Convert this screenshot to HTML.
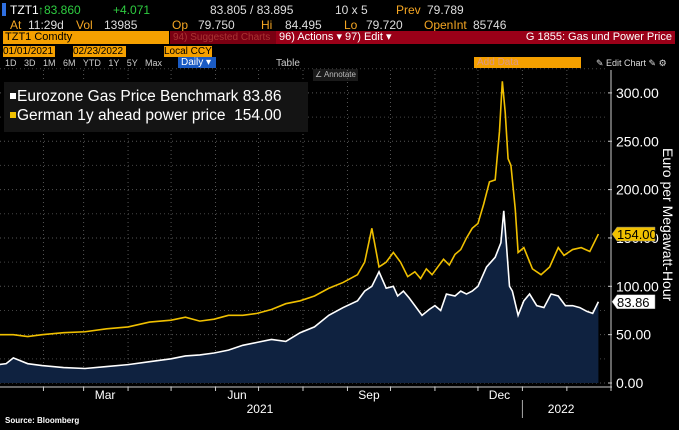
<!DOCTYPE html>
<html><head><meta charset="utf-8"><style>
body{margin:0;width:679px;height:430px;background:#000;overflow:hidden;font-family:"Liberation Sans",sans-serif;position:relative}
.a{position:absolute;white-space:nowrap}
</style></head><body>
<div class="a" style="left:0;top:3px;font-size:12px;color:#ddd;width:679px;height:16px">
<span style="position:absolute;left:2px;top:0;width:4px;height:13px;background:#2f6fe0"></span>
<span class="a" style="left:10px;color:#fff">TZT1</span><span class="a" style="left:38px;color:#2ecc40">↑83.860</span>
<span class="a" style="left:113px;color:#2ecc40">+4.071</span><span class="a" style="left:210px">83.805 / 83.895</span>
<span class="a" style="left:335px">10 x 5</span><span class="a" style="left:396px;color:#f5a623">Prev</span><span class="a" style="left:427px">79.789</span></div>
<div class="a" style="left:0;top:18px;font-size:12px;color:#ddd;width:679px;height:16px">
<span class="a" style="left:10px;color:#f5a623">At</span><span class="a" style="left:28px">11:29d</span><span class="a" style="left:76px;color:#f5a623">Vol</span><span class="a" style="left:104px">13985</span>
<span class="a" style="left:172px;color:#f5a623">Op</span><span class="a" style="left:198px">79.750</span><span class="a" style="left:261px;color:#f5a623">Hi</span><span class="a" style="left:285px">84.495</span>
<span class="a" style="left:344px;color:#f5a623">Lo</span><span class="a" style="left:366px">79.720</span><span class="a" style="left:424px;color:#f5a623">OpenInt</span><span class="a" style="left:473px">85746</span></div>
<div class="a" style="left:3px;top:31px;width:164px;height:13px;background:#f5a000;color:#000;font-size:11px;line-height:13px;padding-left:2px">TZT1 Comdty</div>
<div class="a" style="left:170px;top:31px;width:104px;height:13px;background:#7a0012;color:#a33;font-size:10px;line-height:13px;padding-left:3px;overflow:hidden">94) Suggested Charts</div>
<div class="a" style="left:276px;top:31px;width:64px;height:13px;background:#9a0018;color:#fff;font-size:11px;line-height:13px;padding-left:3px">96) Actions ▾</div>
<div class="a" style="left:342px;top:31px;width:47px;height:13px;background:#9a0018;color:#fff;font-size:11px;line-height:13px;padding-left:3px">97) Edit ▾</div>
<div class="a" style="left:392px;top:31px;width:280px;height:13px;background:#9a0018;color:#fff;font-size:11px;line-height:13px;text-align:right;padding-right:3px">G 1855: Gas und Power Price</div>
<div class="a" style="left:3px;top:46px;width:52px;height:11px;background:#f5a000;color:#000;font-size:10px;line-height:11px">01/01/2021</div>
<div class="a" style="left:73px;top:46px;width:53px;height:11px;background:#f5a000;color:#000;font-size:10px;line-height:11px">02/23/2022</div>
<div class="a" style="left:164px;top:46px;width:48px;height:11px;background:#f5a000;color:#000;font-size:10px;line-height:11px">Local CCY</div>
<div class="a" style="left:5px;top:58px;font-size:9px;color:#ccc;word-spacing:5px">1D 3D 1M 6M YTD 1Y 5Y Max</div>
<div class="a" style="left:178px;top:57px;width:35px;height:11px;background:#1a5bc4;color:#fff;font-size:10px;line-height:11px;padding-left:3px">Daily ▾</div>
<div class="a" style="left:276px;top:58px;font-size:10px;color:#ccc">Table</div>
<div class="a" style="left:474px;top:57px;width:104px;height:11px;background:#f5a000;color:#d98;font-size:10px;line-height:11px;padding-left:3px">Add Data</div>
<div class="a" style="left:596px;top:58px;font-size:9px;color:#ddd">✎ Edit Chart ✎ ⚙</div>
<div class="a" style="left:313px;top:69px;width:45px;height:12px;background:#1a1a1a;color:#bbb;font-size:8px;line-height:12px;text-align:center">∠ Annotate</div>
<svg class="a" style="left:0;top:0" width="679" height="430" id="svg"></svg>
<div class="a" style="left:4px;top:82px;width:304px;height:50px;background:#141414;color:#fff;font-size:15.5px;line-height:19px;padding:5px 0 0 6px;box-sizing:border-box">
<div><span style="display:inline-block;width:6px;height:6px;background:#fff;margin-right:1px;vertical-align:2px"></span>Eurozone Gas Price Benchmark 83.86</div>
<div><span style="display:inline-block;width:6px;height:6px;background:#f0c000;margin-right:1px;vertical-align:2px"></span>German 1y ahead power price&nbsp; 154.00</div></div>
<div class="a" style="left:5px;top:416px;font-size:8px;font-weight:bold;color:#fff">Source: Bloomberg</div>
<script>
const gasDays=[0,5,10,20,30,45,60,75,90,105,120,130,140,150,160,170,180,190,200,210,220,230,240,250,255,260,265,270,275,278,282,286,290,295,300,304,308,312,318,322,326,330,334,340,346,350,352,354,356,358,362,366,370,375,380,385,390,395,400,405,410,414,418];
const gasVals=[19,20,26,20,18,16,15,17,19,22,25,28,29,31,34,39,42,45,43,52,58,70,78,85,95,100,115,98,100,90,95,88,80,70,76,80,75,92,90,95,92,95,100,120,130,145,178,140,100,95,70,85,92,80,78,92,90,80,80,78,74,72,84];
const powDays=[0,10,20,30,45,60,75,90,105,120,130,140,150,160,170,180,190,200,210,220,230,240,250,255,260,265,270,275,280,285,290,294,298,302,306,310,314,318,322,326,330,334,338,342,346,349,351,353,355,357,360,362,366,372,378,384,390,394,400,406,412,418];
const powVals=[50,50,48,50,52,53,56,58,63,65,68,64,66,70,70,72,76,82,85,90,98,104,112,125,160,120,125,135,125,110,115,108,118,112,120,128,122,133,138,150,160,165,185,208,210,260,312,280,232,225,180,135,140,118,112,120,140,132,138,140,136,154];
const yTicks=[0,50,100,150,200,250,300];
const yTickLabels=["0.00","50.00","100.00","150.00","200.00","250.00","300.00"];
const monthDays=[31,59,90,120,151,181,212,243,273,304,334,365,396];
const monthLabels=[{d:74,t:"Mar"},{d:166,t:"Jun"},{d:258,t:"Sep"},{d:349,t:"Dec"}];
const yearLabels=[{d:182,t:"2021"},{d:392,t:"2022"}];
const X=d=>-1+d*1.434, Y=v=>383-0.967*v;
const s=document.getElementById('svg');const NS='http://www.w3.org/2000/svg';
function mk(t,a,p){const e=document.createElementNS(NS,t);for(const k in a)e.setAttribute(k,a[k]);(p||s).appendChild(e);return e;}
yTicks.forEach((v,i)=>{const l=mk('line',{x1:0,x2:608,y1:Y(v),y2:Y(v),stroke:'#555','stroke-dasharray':'1 3'});

const t=mk('text',{x:616,y:Y(v)+5,fill:'#fff','font-size':'14','font-family':'Liberation Sans'});t.textContent=yTickLabels[i];

mk('line',{x1:608,x2:612,y1:Y(v),y2:Y(v),stroke:'#ccc'});
const m=mk('line',{x1:0,x2:608,y1:Y(v+25),y2:Y(v+25),stroke:'#444','stroke-dasharray':'1 3'});
});
monthDays.forEach(d=>{const l=mk('line',{x1:X(d),x2:X(d),y1:70,y2:387,stroke:'#555','stroke-dasharray':'1 3'});

mk('line',{x1:X(d),x2:X(d),y1:387,y2:391,stroke:'#ccc'});});
let gp=gasDays.map((d,i)=>X(d)+','+Y(gasVals[i])).join(' ');
const area=mk('polygon',{points:X(gasDays[0])+','+Y(0)+' '+gp+' '+X(gasDays[gasDays.length-1])+','+Y(0),fill:'#0f2240'});

const gl=mk('polyline',{points:gp,fill:'none',stroke:'#fff','stroke-width':1.6});

const pl=mk('polyline',{points:powDays.map((d,i)=>X(d)+','+Y(powVals[i])).join(' '),fill:'none',stroke:'#f0c000','stroke-width':1.6});

mk('line',{x1:0,x2:612,y1:387,y2:387,stroke:'#ccc'});mk('line',{x1:611,x2:611,y1:70,y2:391,stroke:'#ccc'});
mk('line',{x1:X(365),x2:X(365),y1:400,y2:418,stroke:'#aaa'});
monthLabels.forEach(m=>{const t=mk('text',{x:X(m.d),y:399,fill:'#fff','font-size':'12','text-anchor':'middle','font-family':'Liberation Sans'});t.textContent=m.t;
});
yearLabels.forEach(m=>{const t=mk('text',{x:X(m.d),y:413,fill:'#fff','font-size':'12','text-anchor':'middle','font-family':'Liberation Sans'});t.textContent=m.t;
});
function tag(v,txt,bg,fg,nm){const g=mk('g',{});
mk('polygon',{points:`612,${Y(v)} 617,${Y(v)-7} 655,${Y(v)-7} 655,${Y(v)+7} 617,${Y(v)+7}`,fill:bg,stroke:'#888','stroke-width':0.5},g);
const t=mk('text',{x:617,y:Y(v)+5,fill:fg,'font-size':'13','font-family':'Liberation Sans'},g);t.textContent=txt;}
tag(powVals[powVals.length-1],powVals[powVals.length-1].toFixed(2),'#f0c000','#000','power-last-value');
tag(gasVals[gasVals.length-1],'83.86','#fff','#000','gas-last-value');
const at=mk('text',{x:0,y:0,fill:'#fff','font-size':'14','font-family':'Liberation Sans',transform:'translate(663,148) rotate(90)'});at.textContent='Euro per Megawatt-Hour';

</script>
</body></html>
